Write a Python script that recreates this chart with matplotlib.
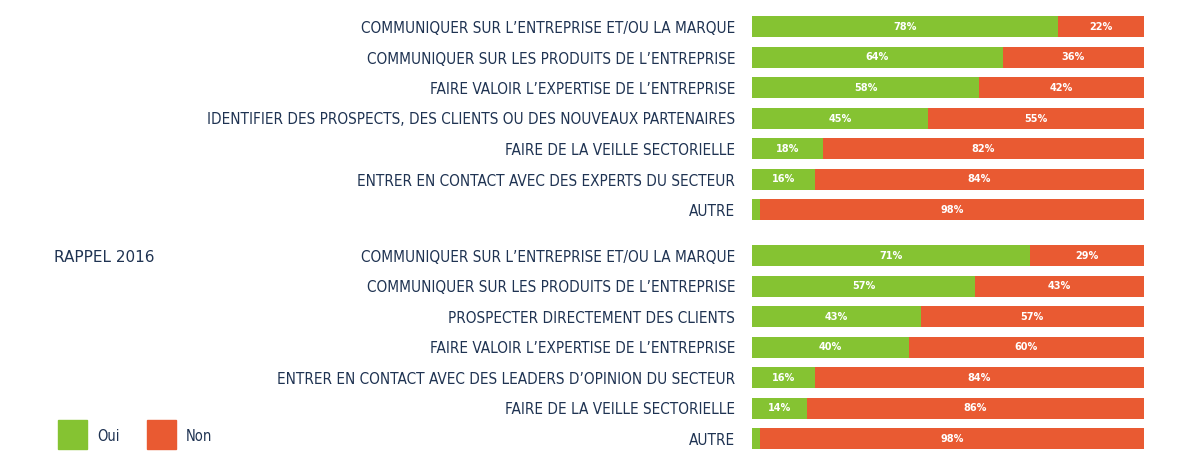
import matplotlib.pyplot as plt
import numpy as np

labels_2018 = [
    "COMMUNIQUER SUR L’ENTREPRISE ET/OU LA MARQUE",
    "COMMUNIQUER SUR LES PRODUITS DE L’ENTREPRISE",
    "FAIRE VALOIR L’EXPERTISE DE L’ENTREPRISE",
    "IDENTIFIER DES PROSPECTS, DES CLIENTS OU DES NOUVEAUX PARTENAIRES",
    "FAIRE DE LA VEILLE SECTORIELLE",
    "ENTRER EN CONTACT AVEC DES EXPERTS DU SECTEUR",
    "AUTRE",
]
oui_2018 = [78, 64, 58, 45, 18, 16, 2]
non_2018 = [22, 36, 42, 55, 82, 84, 98]

labels_2016 = [
    "COMMUNIQUER SUR L’ENTREPRISE ET/OU LA MARQUE",
    "COMMUNIQUER SUR LES PRODUITS DE L’ENTREPRISE",
    "PROSPECTER DIRECTEMENT DES CLIENTS",
    "FAIRE VALOIR L’EXPERTISE DE L’ENTREPRISE",
    "ENTRER EN CONTACT AVEC DES LEADERS D’OPINION DU SECTEUR",
    "FAIRE DE LA VEILLE SECTORIELLE",
    "AUTRE",
]
oui_2016 = [71, 57, 43, 40, 16, 14, 2]
non_2016 = [29, 43, 57, 60, 84, 86, 98]

GREEN = "#85c332"
ORANGE = "#e95a32"
NAVY = "#1f3352"

W, H = 1197, 465
fig = plt.figure(figsize=(W / 100, H / 100), dpi=100)
# bars run from x=752 to x=1144 px, rows start at y=27 px with 30.5 px spacing
ax = fig.add_axes([752 / W, 0, 392 / W, 1])
step = 30.5
ax.set_ylim((H - 27) / step, -27 / step)
ax.set_xlim(0, 100)

pos = np.concatenate([np.arange(7), np.arange(7) + 7.5])
labels = labels_2018 + labels_2016
oui = np.array(oui_2018 + oui_2016)
non = np.array(non_2018 + non_2016)

bh = 21 / step
ax.barh(pos, oui, height=bh, color=GREEN, edgecolor="none")
ax.barh(pos, non, left=oui, height=bh, color=ORANGE, edgecolor="none")

for y, o, n in zip(pos, oui, non):
    if o >= 5:
        ax.text(o / 2, y, f"{o}%", ha="center", va="center", color="white",
                fontsize=7, fontweight="bold")
    ax.text(o + n / 2, y, f"{n}%", ha="center", va="center", color="white",
            fontsize=7, fontweight="bold")

ax.set_yticks(pos)
ax.set_yticklabels(labels, fontsize=11, color=NAVY, fontstretch="condensed")
ax.tick_params(axis="y", length=0, pad=12)
ax.set_xticks([])
for s in ax.spines.values():
    s.set_visible(False)

fig.text(54 / W, 1 - 258 / H, "RAPPEL 2016", fontsize=11, color=NAVY,
         va="center", ha="left")

# legend
for x0, c, t in [(58, GREEN, "Oui"), (147, ORANGE, "Non")]:
    fig.patches.append(plt.Rectangle((x0 / W, 1 - 449 / H), 29 / W, 29 / H,
                                     transform=fig.transFigure, color=c))
    fig.text((x0 + 39) / W, 1 - 436 / H, t, fontsize=10.5, color=NAVY,
             va="center", ha="left", fontstretch="condensed")

fig.savefig("out.png", dpi=100)
